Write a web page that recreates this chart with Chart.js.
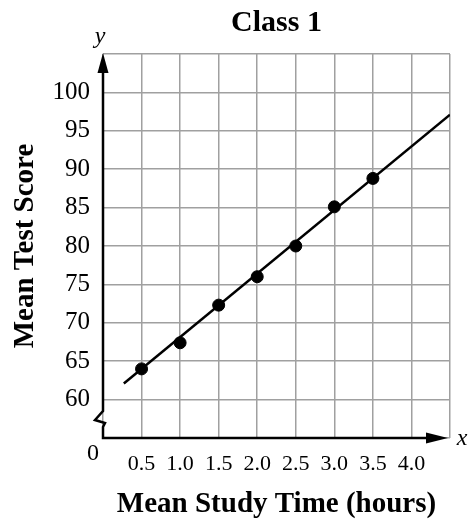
<!DOCTYPE html>
<html>
<head>
<meta charset="utf-8">
<script src="https://cdn.jsdelivr.net/npm/chart.js@4.4.1/dist/chart.umd.min.js"></script>
<style>
  html, body { margin: 0; padding: 0; background: #fff; }
  #wrap { width: 468px; height: 521px; position: relative; }
</style>
</head>
<body>
<div id="wrap"><canvas id="chart"></canvas></div>
<script>
/* ---- DATA ---- */
const studyHours = [0.5, 1.0, 1.5, 2.0, 2.5, 3.0, 3.5];
const testScores = [64, 67.4, 72.3, 76, 80, 85.1, 88.8];

// line of best fit, end points
const fitX = [0.27, 4.5];
const fitY = [62.1, 97.1];

const xTickLabels = ['0.5', '1.0', '1.5', '2.0', '2.5', '3.0', '3.5', '4.0'];
const yTickLabels = ['60', '65', '70', '75', '80', '85', '90', '95', '100'];

const SERIF = '"Liberation Serif", "Times New Roman", serif';

/* ---- AXES WITH ARROWS AND BREAK ---- */
const axisPlugin = {
    id: 'axisArrows',
    afterDraw(chart) {
        const { ctx, scales: { x, y } } = chart;
        const ox = x.getPixelForValue(0);
        const oy = y.getPixelForValue(55);
        const topY = y.getPixelForValue(105);
        const rightX = x.getPixelForValue(4.5);

        ctx.save();
        ctx.strokeStyle = '#000';
        ctx.fillStyle = '#000';
        ctx.lineWidth = 2.5;
        ctx.lineJoin = 'miter';

        // y axis with zigzag break
        ctx.beginPath();
        ctx.moveTo(ox, topY + 16);
        ctx.lineTo(ox, oy - 27);
        ctx.lineTo(ox - 8, oy - 18);
        ctx.lineTo(ox + 2, oy - 15);
        ctx.lineTo(ox, oy - 11);
        ctx.lineTo(ox, oy);
        ctx.lineTo(rightX - 16, oy);
        ctx.stroke();

        // arrow heads
        ctx.beginPath();
        ctx.moveTo(ox, topY - 1);
        ctx.lineTo(ox - 5.5, topY + 19);
        ctx.lineTo(ox + 5.5, topY + 19);
        ctx.closePath();
        ctx.fill();

        ctx.beginPath();
        ctx.moveTo(rightX - 2, oy);
        ctx.lineTo(rightX - 24, oy - 5.5);
        ctx.lineTo(rightX - 24, oy + 5.5);
        ctx.closePath();
        ctx.fill();

        // axis letters and origin
        ctx.font = 'italic 24px ' + SERIF;
        ctx.textAlign = 'center';
        ctx.textBaseline = 'middle';
        ctx.fillText('y', ox - 3, topY - 17);
        ctx.fillText('x', rightX + 12, oy + 1);
        ctx.font = '24px ' + SERIF;
        ctx.fillText('0', ox - 10, oy + 16);
        ctx.restore();
    }
};

/* ---- CHART ---- */
const ctx = document.getElementById('chart');

new Chart(ctx, {
    type: 'scatter',
    data: {
        datasets: [
            {
                label: 'Class 1',
                data: studyHours.map((h, i) => ({ x: h, y: testScores[i] })),
                backgroundColor: '#000',
                borderColor: '#000',
                pointRadius: 6,
                order: 1
            },
            {
                label: 'Fit',
                data: fitX.map((h, i) => ({ x: h, y: fitY[i] })),
                showLine: true,
                borderColor: '#000',
                borderWidth: 2.5,
                pointRadius: 0,
                order: 2
            }
        ]
    },
    options: {
        responsive: true,
        maintainAspectRatio: false,
        animation: false,
        layout: { padding: { left: 0, right: 18, top: 0, bottom: 0 } },
        plugins: {
            legend: { display: false },
            tooltip: { enabled: false },
            title: {
                display: true,
                text: 'Class 1',
                fullSize: false,
                color: '#000',
                font: { family: SERIF, size: 30, weight: 'bold', lineHeight: 1 },
                padding: { top: 8, bottom: 16 }
            }
        },
        scales: {
            x: {
                type: 'linear',
                min: 0,
                max: 4.5,
                afterFit(scale) { scale.height = 83; },
                border: { display: false },
                grid: { color: '#a0a0a0', lineWidth: 1.5, drawTicks: false },
                ticks: {
                    stepSize: 0.5,
                    autoSkip: false,
                    maxRotation: 0,
                    padding: 13,
                    color: '#000',
                    font: { family: SERIF, size: 22 },
                    callback: (v) => {
                        const s = v.toFixed(1);
                        return xTickLabels.includes(s) ? s : '';
                    }
                },
                title: {
                    display: true,
                    text: 'Mean Study Time (hours)',
                    color: '#000',
                    font: { family: SERIF, size: 29, weight: 'bold', lineHeight: 1 },
                    padding: { top: 0, bottom: 2 }
                }
            },
            y: {
                type: 'linear',
                min: 55,
                max: 105,
                afterFit(scale) { scale.width = 103; },
                border: { display: false },
                grid: { color: '#a0a0a0', lineWidth: 1.5, drawTicks: false },
                ticks: {
                    stepSize: 5,
                    autoSkip: false,
                    padding: 13,
                    color: '#000',
                    font: { family: SERIF, size: 25 },
                    callback: (v) => {
                        const s = String(v);
                        return yTickLabels.includes(s) ? s : '';
                    }
                },
                title: {
                    display: true,
                    text: 'Mean Test Score',
                    color: '#000',
                    font: { family: SERIF, size: 29, weight: 'bold', lineHeight: 1 },
                    padding: { top: 11, bottom: 0 }
                }
            }
        }
    },
    plugins: [axisPlugin]
});
</script>
</body>
</html>
